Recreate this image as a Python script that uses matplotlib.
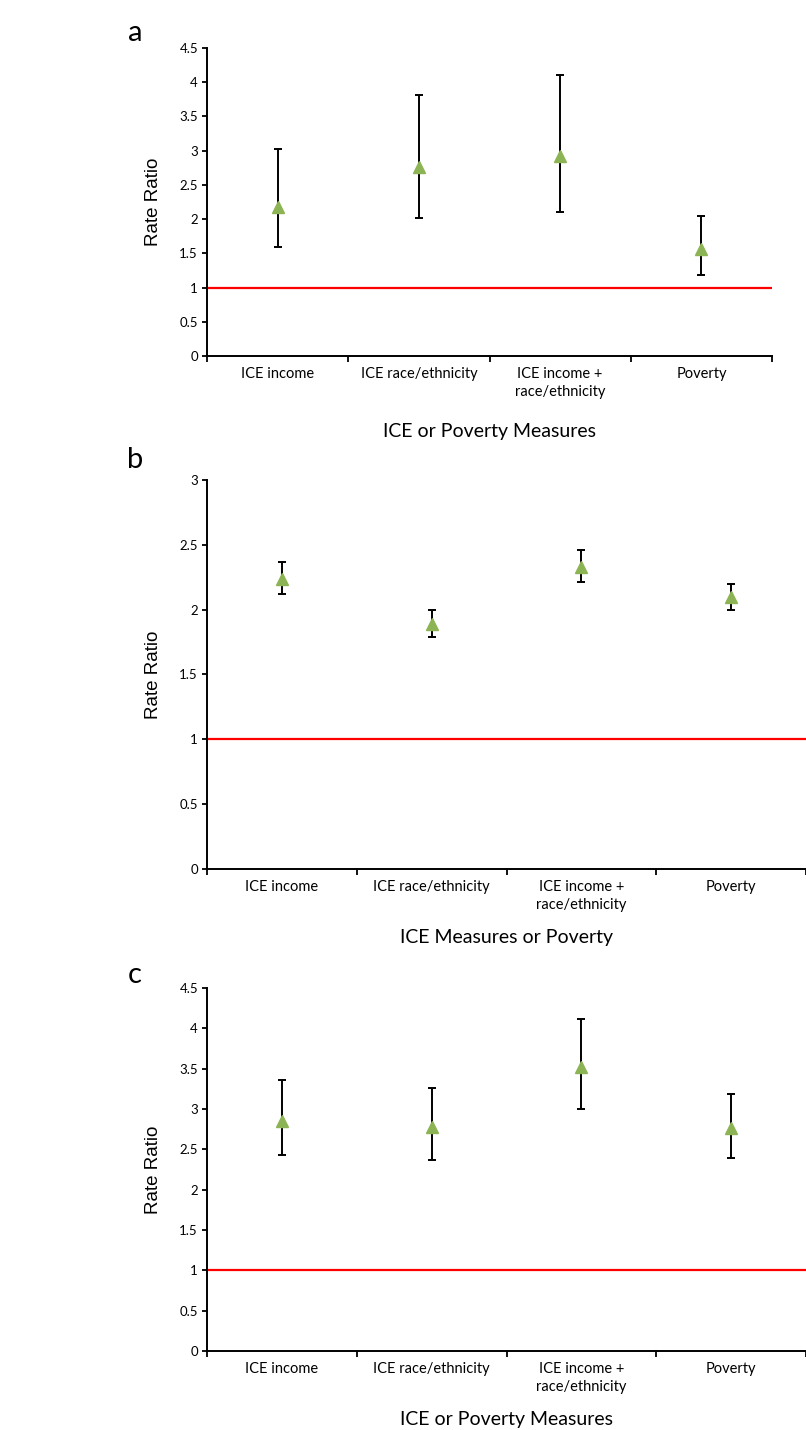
import numpy as np
import matplotlib
matplotlib.use('Agg')
import matplotlib.pyplot as plt

plt.rcParams['font.family'] = ['Lato', 'DejaVu Sans']

# Data
categories = ['ICE income', 'ICE race/ethnicity', 'ICE income +\nrace/ethnicity', 'Poverty']

a_rr = [2.18, 2.76, 2.92, 1.56]
a_lo = [1.59, 2.02, 2.11, 1.19]
a_hi = [3.03, 3.81, 4.10, 2.04]

b_rr = [2.24, 1.89, 2.33, 2.10]
b_lo = [2.12, 1.79, 2.21, 2.00]
b_hi = [2.37, 2.00, 2.46, 2.20]

c_rr = [2.85, 2.78, 3.52, 2.76]
c_lo = [2.43, 2.37, 3.00, 2.39]
c_hi = [3.36, 3.26, 4.12, 3.19]

a_yticks = [0, 0.5, 1, 1.5, 2, 2.5, 3, 3.5, 4, 4.5]
b_yticks = [0, 0.5, 1, 1.5, 2, 2.5, 3]
c_yticks = a_yticks

W, H = 806, 1430
fig = plt.figure(figsize=(W / 100, H / 100), dpi=100)

GREEN = '#8cb454'


def panel(rect, rr, lo, hi, yticks, ymax, letter, letter_y, xtitle, xtitle_y):
    l, t, r, b = rect
    ax = fig.add_axes([l / W, 1 - b / H, (r - l) / W, (b - t) / H])
    x = np.arange(len(categories)) + 0.5
    rr = np.array(rr)
    err = [rr - np.array(lo), np.array(hi) - rr]
    ax.axhline(1, color='#ff0000', lw=1.6, zorder=1)
    ax.errorbar(x, rr, yerr=err, fmt='none', ecolor='black', elinewidth=1.4,
                capsize=2.6, capthick=1.4, zorder=2)
    ax.plot(x, rr, '^', color=GREEN, ms=8, mec=GREEN, zorder=3)

    ax.set_xlim(0, len(categories))
    ax.set_ylim(0, ymax)
    ax.set_yticks(yticks)
    ax.set_yticklabels([('%g' % v) for v in yticks], fontsize=9.5)
    ax.set_xticks(np.arange(len(categories) + 1))
    ax.set_xticklabels([])
    ax.set_xticks(x, minor=True)
    ax.set_xticklabels(categories, minor=True, fontsize=10.5, linespacing=1.35)
    ax.tick_params(axis='x', which='minor', length=0, pad=8)
    ax.tick_params(axis='x', which='major', length=4, width=1.3, direction='out')
    ax.tick_params(axis='y', length=3.5, width=1.3, direction='out', pad=3)
    for s in ['top', 'right']:
        ax.spines[s].set_visible(False)
    for s in ['left', 'bottom']:
        ax.spines[s].set_linewidth(1.4)

    yc = 1 - (t + b) / 2 / H
    fig.text(153 / W, yc, 'Rate Ratio', rotation=90, ha='center', va='center',
             fontsize=13.5, family=['Liberation Sans', 'DejaVu Sans'])
    fig.text(135 / W, 1 - letter_y / H, letter, ha='center', va='center', fontsize=21)
    fig.text((l + r) / 2 / W, 1 - xtitle_y / H, xtitle, ha='center', va='center',
             fontsize=14)
    return ax


panel((207, 48, 772, 356), a_rr, a_lo, a_hi, a_yticks, 4.5, 'a', 33,
      'ICE or Poverty Measures', 431)
panel((207, 480, 806, 869), b_rr, b_lo, b_hi, b_yticks, 3, 'b', 460,
      'ICE Measures or Poverty', 938)
panel((207, 988, 806, 1351), c_rr, c_lo, c_hi, c_yticks, 4.5, 'c', 975,
      'ICE or Poverty Measures', 1420)

fig.savefig('out.png', dpi=100)
